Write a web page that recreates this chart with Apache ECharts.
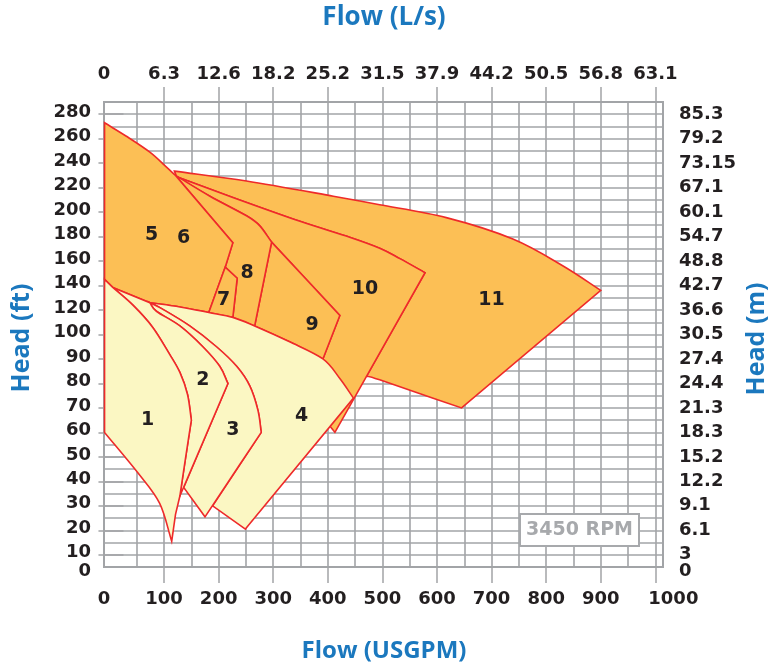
<!DOCTYPE html>
<html>
<head>
<meta charset="utf-8">
<script src="https://cdn.jsdelivr.net/npm/echarts@6/dist/echarts.min.js"></script>
<style>html,body{margin:0;padding:0;background:#fff;}#c{width:771px;height:664px;}</style>
</head>
<body>
<div id="c"></div>
<script>
// ---- Axis tick labels ----
const flowGpmTicks = [0,100,200,300,400,500,600,700,800,900,1000];
const flowLsTicks = ['0','6.3','12.6','18.2','25.2','31.5','37.9','44.2','50.5','56.8','63.1'];
const headFtTicks = [0,10,20,30,40,50,60,70,80,90,100,120,140,160,180,200,220,240,260,280];
const headMTicks = ['0','3','6.1','9.1','12.2','15.2','18.3','21.3','24.4','27.4','30.5','36.6','42.7','48.8','54.7','60.1','67.1','73.15','79.2','85.3'];

// ---- Zone outlines: [flow USGPM, head ft] ----
const zone1 = [[-9,145],[6,138.5],[43,124],[79,106],[110,92],[129,84.5],[143,75.5],[150,65],[139,49],[129,34],[121,26.5],[114,15.5],[92,31],[52,43.5],[-9,60]];
const zone2 = [[6,138.5],[74,126],[86,119],[129,107],[171,95],[202,87],[217,80],[129,34],[139,49],[150,65],[143,75.5],[129,84.5],[110,92],[79,106],[43,124]];
const zone3 = [[74,126],[98,120.5],[147,107],[196,95],[233,87],[257,79],[272,69],[278,60],[175,25.5],[136,37.5],[217,80],[202,87],[171,95],[129,107],[86,119]];
const zone4 = [[74,126],[129,122.5],[182,118],[226,114],[266,107],[330,97],[391,90],[422,82],[447,74],[249,20.5],[189,30],[278,60],[272,69],[257,79],[233,87],[196,95],[147,107],[98,120.5]];
const zone5 = [[-9,273],[31,262],[74,249],[104,237],[121,230],[226,175],[212,155],[182,118],[129,122.5],[74,126],[6,138.5],[-9,145]];
const zone7 = [[212,155],[234,146],[226,114],[182,118]];
const zone8 = [[121,230],[184,213],[251,197],[275,189],[297,175.5],[266,107],[226,114],[234,146],[212,155],[226,175]];
const zone9 = [[297,175.5],[422,115.5],[391,90],[330,97],[266,107]];
const zone10 = [[123,229],[226,212],[349,192.5],[440,179.5],[495,170.5],[532,162],[578,150.5],[413,60],[404,62.5],[391,90],[422,115.5],[297,175.5],[275,189],[251,197],[184,213]];
const zone11 = [[119,233.5],[251,225.5],[410,213],[495,206],[617,195.5],[739,178],[831,156],[900,136],[645,70],[495,81.5],[471,83],[578,150.5],[532,162],[495,170.5],[440,179.5],[349,192.5],[226,212],[123,229]];

// indices of the sharp corners of each outline (other points lie on smooth curves)
const zone1Corners = [0,1,7,8,9,10,11,14];
const zone2Corners = [0,1,6,7,8,9];
const zone3Corners = [0,7,8,9,10];
const zone4Corners = [0,8,9,10,11];
const zone5Corners = [0,4,5,6,7,9,10,11];
const zone7Corners = [0,1,2,3];
const zone8Corners = [0,4,5,6,7,8,9];
const zone9Corners = [0,1,2,4];
const zone10Corners = [0,6,7,8,9,10,11];
const zone11Corners = [0,7,8,10,11,17];

// ---- Zone number labels ----
const zoneNames = ['1','2','3','4','5','6','7','8','9','10','11'];
const zoneLabelFlow = [70,171,226,352,77,136,209,252,371,468,700];
const zoneLabelHead = [65,81.5,61,66.5,181,178.5,128.5,150.5,107.5,137.5,128.5];

const ORANGE = '#fcbf55', YELLOW = '#fbf7c3', RED = '#ee2a2a';
const zones = [
  {pts: zone11, k: zone11Corners, fill: ORANGE}, {pts: zone10, k: zone10Corners, fill: ORANGE},
  {pts: zone9, k: zone9Corners, fill: ORANGE}, {pts: zone8, k: zone8Corners, fill: ORANGE},
  {pts: zone5, k: zone5Corners, fill: ORANGE}, {pts: zone7, k: zone7Corners, fill: ORANGE},
  {pts: zone4, k: zone4Corners, fill: YELLOW}, {pts: zone3, k: zone3Corners, fill: YELLOW},
  {pts: zone2, k: zone2Corners, fill: YELLOW}, {pts: zone1, k: zone1Corners, fill: YELLOW}
];

// head axis: 10 ft per division up to 100 ft, 20 ft per division above
function yv(ft) { return ft <= 100 ? ft / 10 : 10 + (ft - 100) / 20; }
function headPos(i) { return i === 0 ? 0.5 : i; }
function flowPos(i) { return i === 0 ? -10 : flowGpmTicks[i]; }

// closed outline: straight at corners, Catmull-Rom through the other points
const ZoneShape = echarts.graphic.extendShape({
  shape: {points: null, corners: null},
  buildPath: function (ctx, shape) {
    const P = shape.points, n = P ? P.length : 0;
    if (n < 2) return;
    const K = {}; (shape.corners || []).forEach(i => K[i] = true);
    ctx.moveTo(P[0][0], P[0][1]);
    for (let i = 0; i < n; i++) {
      const j = (i + 1) % n;
      const a = P[i], b = P[j], pa = P[(i - 1 + n) % n], nb = P[(i + 2) % n];
      const c1 = K[i] ? [a[0] + (b[0] - a[0]) / 3, a[1] + (b[1] - a[1]) / 3]
                      : [a[0] + (b[0] - pa[0]) / 6, a[1] + (b[1] - pa[1]) / 6];
      const c2 = K[j] ? [b[0] - (b[0] - a[0]) / 3, b[1] - (b[1] - a[1]) / 3]
                      : [b[0] - (nb[0] - a[0]) / 6, b[1] - (nb[1] - a[1]) / 6];
      ctx.bezierCurveTo(c1[0], c1[1], c2[0], c2[1], b[0], b[1]);
    }
    ctx.closePath();
  }
});
echarts.graphic.registerShape('zoneOutline', ZoneShape);

const GRIDC = '#a2a4a7', INK = '#231f20', BLUE = '#1b78be';
const labelFont = {fontFamily: 'DejaVu Sans', fontWeight: 'bold', fontSize: 18, color: INK};
const tickStyle = {color: GRIDC, width: 1.5};
const up = Object.assign({padding: [0, 0, 4, 0]}, labelFont);
const down = Object.assign({padding: [8, 0, 0, 0]}, labelFont);

const XMIN = -10, XMAX = 1014, YMIN = 0.5, YMAX = 19.5;
const gridXs = []; for (let v = 50; v <= 1000; v += 50) gridXs.push(v);
const gridYs = []; for (let v = 1; v <= 19; v += 0.5) gridYs.push(v);

function labelAxis(base, extra) {
  return Object.assign({type: 'value', axisLine: {show: false}, splitLine: {show: false}}, base, extra);
}

const chart = echarts.init(document.getElementById('c'), null, {renderer: 'canvas'});
chart.setOption({
  animation: false,
  grid: {left: 104, right: 108, top: 102, bottom: 97, show: true, borderColor: GRIDC, borderWidth: 2, backgroundColor: 'transparent'},
  xAxis: [
    {type: 'value', min: XMIN, max: XMAX, position: 'bottom', axisLine: {show: false},
     axisTick: {show: false, customValues: gridXs}, axisLabel: {show: false},
     splitLine: {show: true, lineStyle: {color: GRIDC, width: 1.6}}},
    labelAxis({min: XMIN, max: XMAX, position: 'bottom'}, {
     axisTick: {show: true, length: 16, customValues: flowGpmTicks.slice(1), lineStyle: tickStyle},
     axisLabel: Object.assign({show: true, margin: 23, showMinLabel: true, showMaxLabel: true, hideOverlap: false,
       customValues: flowGpmTicks.map((v, i) => flowPos(i)),
       formatter: v => v === -10 ? '0' : (v === 1000 ? '{p|1000}' : String(v)),
       rich: {p: Object.assign({padding: [0, 0, 0, 36]}, labelFont)}}, labelFont)}),
    labelAxis({min: XMIN, max: XMAX, position: 'top'}, {
     axisTick: {show: true, length: 15, customValues: flowGpmTicks.slice(1), lineStyle: tickStyle},
     axisLabel: Object.assign({show: true, margin: 19, showMinLabel: true, showMaxLabel: true, hideOverlap: false,
       customValues: flowGpmTicks.map((v, i) => flowPos(i)),
       formatter: v => v === -10 ? flowLsTicks[0] : flowLsTicks[Math.round(v / 100)]}, labelFont)})
  ],
  yAxis: [
    {type: 'value', min: YMIN, max: YMAX, position: 'left', axisLine: {show: false},
     axisTick: {show: false, customValues: gridYs}, axisLabel: {show: false},
     splitLine: {show: true, lineStyle: {color: GRIDC, width: 1.6}}},
    labelAxis({min: YMIN, max: YMAX, position: 'left'}, {
     axisTick: {show: true, length: 11, customValues: headFtTicks.slice(1).map((v, i) => i + 1), lineStyle: tickStyle},
     axisLabel: Object.assign({show: true, margin: 13, hideOverlap: false, rich: {u: up},
       customValues: headFtTicks.slice(1).map((v, i) => headPos(i + 1)),
       formatter: v => '{u|' + headFtTicks[Math.round(v)] + '}'}, labelFont)}),
    labelAxis({min: YMIN, max: YMAX, position: 'right'}, {
     axisTick: {show: true, length: 14, customValues: headMTicks.slice(1).map((v, i) => i + 1), lineStyle: tickStyle},
     axisLabel: Object.assign({show: true, margin: 16, hideOverlap: false,
       customValues: headMTicks.slice(1).map((v, i) => headPos(i + 1)),
       formatter: v => headMTicks[Math.round(v)]}, labelFont)}),
    // separate axes for the bottom "0" labels so they are not dropped as overlapping
    labelAxis({min: YMIN, max: YMAX, position: 'left'}, {
     axisTick: {show: false},
     axisLabel: Object.assign({show: true, margin: 13, showMinLabel: true, hideOverlap: false, rich: {d: down},
       customValues: [headPos(0)], formatter: () => '{d|' + headFtTicks[0] + '}'}, labelFont)}),
    labelAxis({min: YMIN, max: YMAX, position: 'right'}, {
     axisTick: {show: false},
     axisLabel: Object.assign({show: true, margin: 16, showMinLabel: true, hideOverlap: false, rich: {d: down},
       customValues: [headPos(0)], formatter: () => '{d|' + headMTicks[0] + '}'}, labelFont)})
  ],
  series: [
    {type: 'custom', xAxisIndex: 0, yAxisIndex: 0, clip: false,
     data: zones.map(() => [0, 1]),
     renderItem: function (params, api) {
       const z = zones[params.dataIndex];
       const pts = z.pts.map(p => api.coord([p[0], yv(p[1])]));
       return {type: 'zoneOutline', shape: {points: pts, corners: z.k.slice()},
               style: {fill: z.fill, stroke: RED, lineWidth: 1.6, lineJoin: 'miter'}};
     }},
    {type: 'custom', xAxisIndex: 0, yAxisIndex: 0, clip: false, z: 5,
     data: zoneNames.map((n, i) => [zoneLabelFlow[i], yv(zoneLabelHead[i])]),
     renderItem: function (params, api) {
       const c = api.coord([api.value(0), api.value(1)]);
       return {type: 'text', x: c[0], y: c[1],
               style: {text: zoneNames[params.dataIndex], fill: INK, font: 'bold 19px "DejaVu Sans"',
                       align: 'center', verticalAlign: 'middle'}};
     }}
  ],
  graphic: [
    {type: 'text', x: 384, y: 18, style: {text: 'Flow (L/s)', fill: BLUE, font: 'bold 26px "Open Sans"', align: 'center', verticalAlign: 'middle'}},
    {type: 'text', x: 384, y: 651, style: {text: 'Flow (USGPM)', fill: BLUE, font: 'bold 24px "Open Sans"', align: 'center', verticalAlign: 'middle'}},
    {type: 'text', x: 22, y: 338, rotation: Math.PI / 2, style: {text: 'Head (ft)', fill: BLUE, font: 'bold 25px "Open Sans"', align: 'center', verticalAlign: 'middle'}},
    {type: 'text', x: 757, y: 339, rotation: Math.PI / 2, style: {text: 'Head (m)', fill: BLUE, font: 'bold 25px "Open Sans"', align: 'center', verticalAlign: 'middle'}},
    {type: 'rect', shape: {x: 520, y: 514, width: 119, height: 32}, style: {fill: '#fff', stroke: '#a7a9ac', lineWidth: 2}, z: 10},
    {type: 'text', x: 579.5, y: 530, z: 11, style: {text: '3450 RPM', fill: '#a7a9ac', font: 'bold 19px "DejaVu Sans"', align: 'center', verticalAlign: 'middle'}}
  ]
});
</script>
</body>
</html>
